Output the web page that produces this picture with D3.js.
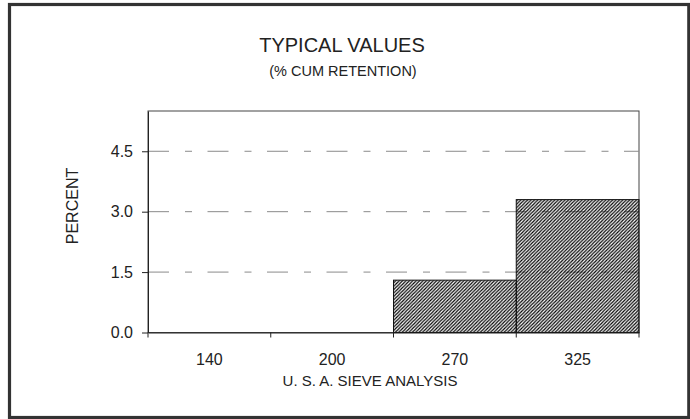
<!DOCTYPE html>
<html>
<head>
<meta charset="utf-8">
<script src="https://cdn.jsdelivr.net/npm/d3@7"></script>
<style>
  body { margin: 0; background: #fff; }
  svg { display: block; font-family: "Liberation Sans", Arial, sans-serif; }
</style>
</head>
<body>
<div id="d3container"><svg id="chart"></svg></div>
<script>
// sieve sizes and % cumulative retention
const sieves = ['140', '200', '270', '325']
const retention = [0, 0, 1.3, 3.3]
const yTicks = [0, 1.5, 3.0, 4.5]

const width = 690, height = 419
const margin = {top: 111, right: 51, bottom: 86.5, left: 148}

const svg = d3.select('#chart')
  .attr('width', width)
  .attr('height', height)

// hatch fill for the bars
const defs = svg.append('defs')
const hw = 3.4
defs.append('pattern')
  .attr('id', 'hatch')
  .attr('patternUnits', 'userSpaceOnUse')
  .attr('width', hw).attr('height', hw)
  .append('path')
    .attr('d', `M${-hw/2},${hw/2} l${hw},${-hw} M0,${hw} l${hw},${-hw} M${hw/2},${hw*1.5} l${hw},${-hw}`)
    .attr('stroke', '#000')
    .attr('stroke-width', 1.2)

svg.append('rect')
  .attr('width', width).attr('height', height)
  .attr('fill', '#fff')

// outer frame
svg.append('rect')
  .attr('x', 9.5).attr('y', 4.5)
  .attr('width', 679.3).attr('height', 413)
  .attr('fill', 'none')
  .attr('stroke', '#333')
  .attr('stroke-width', 3.2)

const x = d3.scaleBand()
  .domain(sieves)
  .range([margin.left, width - margin.right])
  .padding(0)

const y = d3.scaleLinear()
  .domain([0, 5.5])
  .range([height - margin.bottom, margin.top])

// titles
svg.append('text')
  .attr('x', 342).attr('y', 52)
  .attr('text-anchor', 'middle')
  .attr('font-size', 20)
  .attr('fill', '#222')
  .text('TYPICAL VALUES')

svg.append('text')
  .attr('x', 343).attr('y', 76)
  .attr('text-anchor', 'middle')
  .attr('font-size', 14.5)
  .attr('fill', '#222')
  .text('(% CUM RETENTION)')

// plot box
svg.append('rect')
  .attr('x', margin.left).attr('y', margin.top)
  .attr('width', x.range()[1] - margin.left)
  .attr('height', y(0) - margin.top)
  .attr('fill', 'none')
  .attr('stroke', '#444')
  .attr('stroke-width', 1)

// dash-dot gridlines
svg.append('g')
  .selectAll('line')
  .data(yTicks.filter(d => d > 0))
  .join('line')
    .attr('x1', margin.left).attr('x2', x.range()[1])
    .attr('y1', d => y(d)).attr('y2', d => y(d))
    .attr('stroke', '#8a8a8a')
    .attr('stroke-width', 1)
    .attr('stroke-dasharray', '21,16,7,15.5')

// bars
svg.append('g')
  .selectAll('rect')
  .data(retention.map((v, i) => ({sieve: sieves[i], v})).filter(d => d.v > 0))
  .join('rect')
    .attr('x', d => x(d.sieve))
    .attr('y', d => y(d.v))
    .attr('width', x.bandwidth())
    .attr('height', d => y(0) - y(d.v))
    .attr('fill', 'url(#hatch)')
    .attr('stroke', '#111')
    .attr('stroke-width', 1)

// y axis
const yAxis = svg.append('g')
  .attr('transform', 'translate(' + margin.left + ',0)')
  .call(d3.axisLeft(y).tickValues(yTicks).tickFormat(d3.format('.1f')).tickSize(6).tickPadding(9).tickSizeOuter(0))
yAxis.select('.domain').attr('stroke', '#222')
yAxis.selectAll('.tick line').attr('stroke', '#222')
yAxis.selectAll('text')
  .attr('font-size', 16).attr('fill', '#222')
  .attr('font-family', '"Liberation Sans", Arial, sans-serif')

// x axis: labels at band centers
const xAxis = svg.append('g')
  .attr('transform', 'translate(0,' + y(0) + ')')
  .call(d3.axisBottom(x).tickSize(0).tickPadding(21).tickSizeOuter(0))
xAxis.select('.domain').attr('stroke', '#222')
xAxis.selectAll('text')
  .attr('font-size', 16).attr('fill', '#222')
  .attr('font-family', '"Liberation Sans", Arial, sans-serif')

// x ticks at band edges
const edges = sieves.map(s => x(s)).concat([x.range()[1]])
svg.append('g')
  .selectAll('line')
  .data(edges)
  .join('line')
    .attr('x1', d => d).attr('x2', d => d)
    .attr('y1', y(0)).attr('y2', y(0) + 5)
    .attr('stroke', '#222')

// axis titles
svg.append('text')
  .attr('x', 370).attr('y', 386)
  .attr('text-anchor', 'middle')
  .attr('font-size', 15)
  .attr('fill', '#222')
  .text('U. S. A. SIEVE ANALYSIS')

svg.append('text')
  .attr('transform', 'translate(78,206) rotate(-90)')
  .attr('text-anchor', 'middle')
  .attr('font-size', 16)
  .attr('fill', '#222')
  .text('PERCENT')
</script>
</body>
</html>
